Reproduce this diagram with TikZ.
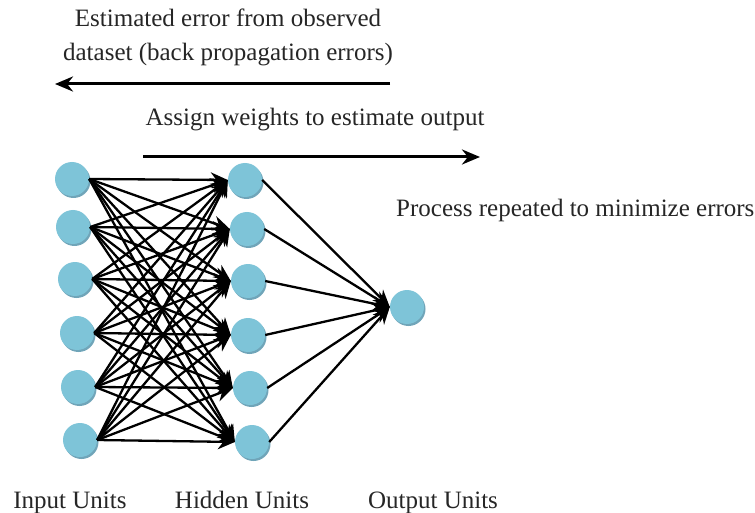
\documentclass[tikz,border=0pt]{standalone}
\usepackage{fontspec}
\setmainfont{Liberation Serif}
\usetikzlibrary{arrows.meta}
\definecolor{unitblue}{RGB}{126,196,216}
\definecolor{unitshadow}{RGB}{112,165,185}
\tikzset{
  unit/.style={circle,fill=unitblue,minimum size=34pt,inner sep=0pt},
  conn/.style={line width=2.3pt,-{Stealth[length=17pt,width=15pt]}},
  bigarrow/.style={line width=3pt,-{Stealth[length=18pt,width=15pt]}},
  lbl/.style={font=\fontsize{25}{30}\selectfont,inner sep=0pt,anchor=base,text=black!85}
}
\begin{document}
\begin{tikzpicture}[x=1pt,y=-1pt]
\useasboundingbox[fill=white] (0,0) rectangle (755,513);
\foreach \n/\x/\y in {1/72/179,2/73/227,3/75/279,4/77/333,5/78/387,6/80/440}{
  \fill[unitshadow] (\x+1.5,\y+2) circle (17pt);
  \node[unit] (i\n) at (\x,\y) {};
}
\foreach \n/\x/\y in {1/245/180,2/247/229,3/248/281,4/248/335,5/250/388,6/252/442}{
  \fill[unitshadow] (\x+1.5,\y+2) circle (17pt);
  \node[unit] (h\n) at (\x,\y) {};
}
\fill[unitshadow] (408.5,309) circle (17pt);
\node[unit] (o) at (407,307) {};
\foreach \a in {1,...,6}{
  \foreach \b in {1,...,6}{
    \draw[conn] (i\a.east) -- (h\b.west);
  }
  \draw[conn] (h\a.east) -- (o.west);
}
\node[lbl] (t1) at (228,27) {Estimated error from observed};
\node[lbl] (t2) at (228,61) {dataset (back propagation errors)};
\coordinate (b1) at (390,84);
\coordinate (b2) at (55,84);
\draw[bigarrow] (b1) -- (b2);
\node[lbl] (t3) at (315,126) {Assign weights to estimate output};
\coordinate (f1) at (143,157);
\coordinate (f2) at (480,157);
\draw[bigarrow] (f1) -- (f2);
\node[lbl,anchor=base west] (t4) at (396,217) {Process repeated to minimize errors};
\node[lbl] (l1) at (70,508) {Input Units};
\node[lbl] (l2) at (242,508) {Hidden Units};
\node[lbl] (l3) at (433,508) {Output Units};
\end{tikzpicture}
\end{document}
